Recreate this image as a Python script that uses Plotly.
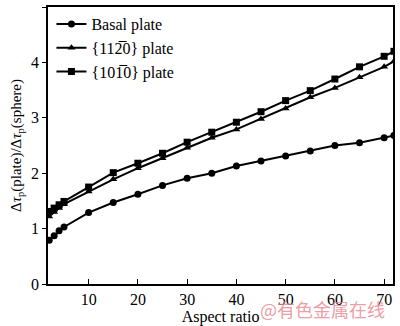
import plotly.graph_objects as go

aspect = [2, 3, 4, 5, 10, 15, 20, 25, 30, 35, 40, 45, 50, 55, 60, 65, 70, 72]
basal = [0.79, 0.87, 0.96, 1.03, 1.29, 1.47, 1.62, 1.78, 1.91, 2.00, 2.13, 2.22, 2.31, 2.40, 2.50, 2.55, 2.64, 2.68]
p1120 = [1.22, 1.30, 1.37, 1.44, 1.67, 1.89, 2.09, 2.27, 2.46, 2.64, 2.79, 2.98, 3.17, 3.37, 3.54, 3.73, 3.92, 4.02]
p1010 = [1.31, 1.37, 1.43, 1.49, 1.75, 2.01, 2.18, 2.36, 2.56, 2.74, 2.92, 3.11, 3.31, 3.49, 3.70, 3.92, 4.11, 4.20]

names = ["Basal plate", "{112\u03050} plate", "{101\u03050} plate"]
series = [basal, p1120, p1010]
symbols = ["circle", "triangle-up", "square"]

fig = go.Figure()
for nm, ys, sym in zip(names, series, symbols):
    fig.add_trace(go.Scatter(x=aspect, y=ys, mode="lines+markers", name=nm,
                             line=dict(color="black", width=2),
                             marker=dict(symbol=sym, size=7, color="black")))

serif = "Liberation Serif, Times New Roman, serif"
fig.update_layout(
    width=400, height=326,
    margin=dict(l=48, r=5, t=6, b=42),
    paper_bgcolor="white", plot_bgcolor="white",
    font=dict(family=serif, color="black", size=16),
    showlegend=True,
    legend=dict(x=0.01, y=1.0, xanchor="left", yanchor="top",
                bgcolor="rgba(0,0,0,0)", font=dict(family=serif, size=16),
                itemwidth=30, tracegroupgap=0),
)
fig.update_xaxes(range=[1.75, 71.8], tickvals=[10, 20, 30, 40, 50, 60, 70],
                 ticks="inside", ticklen=5, tickcolor="black",
                 showline=True, linecolor="black", linewidth=1.5, mirror=True,
                 showgrid=False, zeroline=False,
                 title=dict(text="Aspect ratio", font=dict(family=serif, size=16), standoff=2),
                 tickfont=dict(family=serif, size=16))
fig.update_yaxes(range=[0, 5], tickvals=[0, 1, 2, 3, 4, 5],
                 ticks="outside", ticklen=4, tickcolor="black",
                 showline=True, linecolor="black", linewidth=1.5, mirror=True,
                 showgrid=False, zeroline=False,
                 title=dict(text="\u0394<i>\u03c4</i><sub>p</sub>(plate)/\u0394<i>\u03c4</i><sub>p</sub>(sphere)",
                            font=dict(family=serif, size=15), standoff=6),
                 tickfont=dict(family=serif, size=16))

fig.add_annotation(text="@有色金属在线", x=(389 - 48) / 347, y=0, xref="paper", yref="paper",
                   xanchor="right", yanchor="middle", yshift=-25, showarrow=False,
                   font=dict(family="Noto Sans CJK SC", size=18, color="rgba(232,130,140,0.8)"))

fig.write_html("out.html")
